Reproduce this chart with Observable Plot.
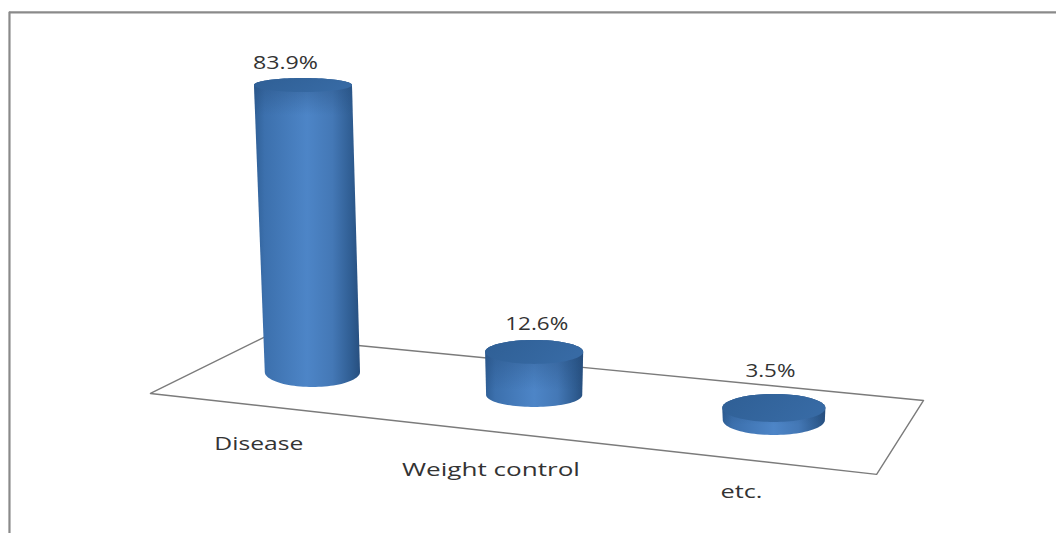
<!DOCTYPE html>
<html>
<head>
<meta charset="utf-8">
<script src="https://cdn.jsdelivr.net/npm/d3@7"></script>
<script src="https://cdn.jsdelivr.net/npm/@observablehq/plot@0.6"></script>
<style>
  html, body { margin: 0; padding: 0; background: #fff; }
  svg { display: block; }
</style>
</head>
<body>
<div id="chart"></div>
<script>
// Share of responses per category, in percent
const categories = ["Disease", "Weight control", "etc."];
const shares = [83.9, 12.6, 3.5];

// Layout in chart units: x counts category widths, y counts percentage points
const floorFrontLeft = [0, 2.05];
const floorFrontRight = [3.157, -21.6];
const floorBackRight = [3.361, 0];
const floorBackLeft = [0.5, 18.7];
const slotAlong = [0.144, 0.466, 0.814];
const slotDepth = 0.55;
const topRadiusX = [0.213, 0.213, 0.224];
const baseRadiusX = [0.207, 0.209, 0.222];
const topRadiusY = [2.05, 3.5, 4.1];
const baseRadiusY = [4.4, 3.5, 4.4];
const topLean = [-0.041, 0, 0];
const shareLabelShift = [[-0.078, 6.7], [0.009, 8.2], [-0.017, 11.1]];
const nameLabelShift = [[-0.235, -21], [-0.19, -21.9], [-0.143, -21]];
// Stretched label widths in pixels, share labels first, then category names
const labelWidths = [65, 63, 50, 89, 178, 42];

const mix = (a, b, t) => [a[0] + (b[0] - a[0]) * t, a[1] + (b[1] - a[1]) * t];
// Position on the tilted floor: along runs left to right, depth runs front to back
const onFloor = (along, depth) =>
  mix(mix(floorFrontLeft, floorBackLeft, depth), mix(floorFrontRight, floorBackRight, depth), along);

const columns = categories.map((name, i) => {
  const [x, y] = onFloor(slotAlong[i], slotDepth);
  return {
    name, i, share: shares[i], baseX: x, baseY: y,
    topX: x + topLean[i], topY: y + shares[i]
  };
});

const angles = d3.range(0, 49).map((k) => (k / 48) * Math.PI);

// Walls run from the back half of the top rim to the front half of the base rim
const walls = columns.flatMap((c) =>
  angles.map((a) => ({
    i: c.i,
    x1: c.topX - Math.cos(a) * topRadiusX[c.i],
    y1: c.topY + Math.sin(a) * topRadiusY[c.i],
    x2: c.baseX - Math.cos(a) * baseRadiusX[c.i],
    y2: c.baseY - Math.sin(a) * baseRadiusY[c.i]
  }))
);

const caps = columns.flatMap((c) =>
  angles.map((a) => ({
    i: c.i,
    x1: c.topX - Math.cos(a) * topRadiusX[c.i],
    y1: c.topY + Math.sin(a) * topRadiusY[c.i],
    x2: c.topX - Math.cos(a) * topRadiusX[c.i],
    y2: c.topY - Math.sin(a) * topRadiusY[c.i]
  }))
);

const floorOutline = [floorFrontLeft, floorFrontRight, floorBackRight, floorBackLeft, floorFrontLeft];

// Shading for the round walls and the lids
function shading() {
  const defs = d3.create("svg:defs");
  const addGradient = (id, stops, x2, y2) => {
    const g = defs.append("linearGradient").attr("id", id)
      .attr("x1", 0).attr("y1", 0).attr("x2", x2).attr("y2", y2);
    stops.forEach(([offset, color, opacity]) =>
      g.append("stop").attr("offset", offset).attr("stop-color", color)
        .attr("stop-opacity", opacity ?? 1));
  };
  addGradient("wall", [
    [0, "#2f5f96"], [0.1, "#3c70ad"], [0.5, "#4d85c7"],
    [0.74, "#4478b6"], [0.92, "#2f5d92"], [1, "#274f7f"]
  ], 1, 0);
  addGradient("lid", [[0, "#2f5f95"], [1, "#376aa4"]], 1, 0.3);
  // The shadow under the lid fades within a fixed distance, so tall walls need a shorter ramp
  addGradient("shadeTall", [[0, "#234a78", 0.5], [0.12, "#234a78", 0], [1, "#234a78", 0]], 0, 1);
  addGradient("shadeShort", [[0, "#234a78", 0.55], [0.75, "#234a78", 0], [1, "#234a78", 0]], 0, 1);
  return defs.node();
}

const frameLeft = -0.613;
const frameTop = 113.5;
const wallArea = (rows, fill) =>
  Plot.area(rows, { x1: "x1", y1: "y1", x2: "x2", y2: "y2", z: "i", fill, curve: "linear" });

const chart = Plot.plot({
  width: 1056,
  height: 533,
  margin: 0,
  style: { background: "#fff", fontFamily: "'Open Sans', sans-serif" },
  x: { domain: [-0.652, 3.939], range: [0, 1056], axis: null },
  y: { domain: [-38.9, 116.96], range: [533, 0], axis: null },
  marks: [
    shading,
    Plot.ruleX([frameLeft], { y1: frameTop, y2: -38.9, stroke: "#8a8a8a", strokeWidth: 2.2 }),
    Plot.ruleY([frameTop], { x1: frameLeft, x2: 3.939, stroke: "#8a8a8a", strokeWidth: 2.2 }),
    Plot.line(floorOutline, {
      x: (d) => d[0], y: (d) => d[1],
      stroke: "#7b7b7b", strokeWidth: 1.4, curve: "linear"
    }),
    wallArea(walls, "url(#wall)"),
    wallArea(walls.filter((d) => d.i === 0), "url(#shadeTall)"),
    wallArea(walls.filter((d) => d.i > 0), "url(#shadeShort)"),
    wallArea(caps, "url(#lid)"),
    Plot.text(columns, {
      x: (d) => d.topX + shareLabelShift[d.i][0],
      y: (d) => d.topY + shareLabelShift[d.i][1],
      text: (d) => `${d.share}%`,
      fontSize: 19, fill: "#333"
    }),
    Plot.text(columns, {
      x: (d) => d.baseX + nameLabelShift[d.i][0],
      y: (d) => d.baseY + nameLabelShift[d.i][1],
      text: "name",
      fontSize: 19, fill: "#333"
    })
  ]
});

// Labels are drawn wider than the font's natural proportions
d3.select(chart).selectAll("text").each(function (_, k) {
  this.setAttribute("textLength", labelWidths[k]);
  this.setAttribute("lengthAdjust", "spacingAndGlyphs");
});

document.getElementById("chart").append(chart);
</script>
</body>
</html>
